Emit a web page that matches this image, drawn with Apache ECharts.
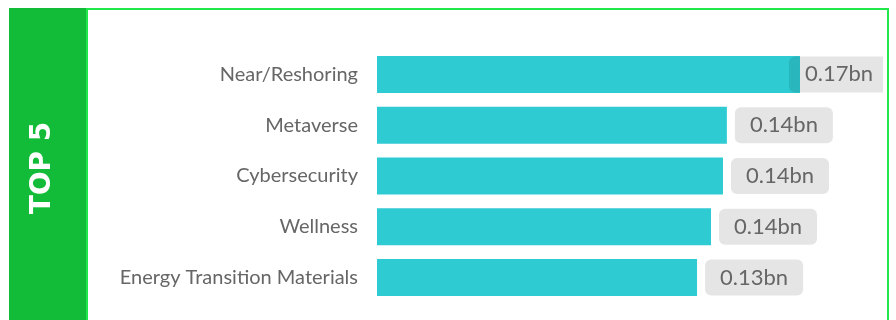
<!DOCTYPE html>
<html><head><meta charset="utf-8">
<script src="https://cdn.jsdelivr.net/npm/echarts@6/dist/echarts.min.js"></script>
<style>html,body{margin:0;padding:0;background:#fff;}#c{width:896px;height:320px;}</style>
</head><body><div id="c"></div>
<script>
const categories = ["Near/Reshoring", "Metaverse", "Cybersecurity", "Wellness", "Energy Transition Materials"];
const values = [0.173, 0.1431, 0.1415, 0.1366, 0.1309];
const unit = "bn";
const panelTitle = "TOP 5";

const chart = echarts.init(document.getElementById('c'));
const data = values.map((v, i) => {
  const d = { value: v };
  if (i === 0) {
    d.label = { offset: [-19, 0], padding: [7, 10, 7, 16], borderRadius: [6, 0, 0, 6] };
  }
  return d;
});
chart.setOption({
  animation: false,
  graphic: [
    { type: 'rect', shape: { x: 9, y: 8, width: 77, height: 320 }, style: { fill: '#12bc38' } },
    { type: 'rect', shape: { x: 86, y: 8, width: 2, height: 320 }, style: { fill: '#1ee84a' } },
    { type: 'rect', shape: { x: 86, y: 8, width: 803, height: 2 }, style: { fill: '#1ee84a' } },
    { type: 'rect', shape: { x: 887, y: 8, width: 2, height: 320 }, style: { fill: '#1ee84a' } },
    { type: 'text', x: 43, y: 168, rotation: Math.PI / 2,
      style: { text: panelTitle, fill: '#fff', font: 'bold 28px "DejaVu Sans"', align: 'center', verticalAlign: 'middle' } }
  ],
  grid: { left: 377, right: 30, top: 49, bottom: 17, containLabel: false },
  xAxis: { type: 'value', min: 0, max: 0.2, show: false },
  yAxis: {
    type: 'category', data: categories, inverse: true,
    axisLine: { show: false }, axisTick: { show: false },
    axisLabel: { color: '#666', fontSize: 20, fontFamily: 'Lato', margin: 19 }
  },
  series: [{
    type: 'bar', data: data, barWidth: 37,
    itemStyle: { color: '#2ecbd3' },
    label: {
      show: true, position: 'right', distance: 8,
      formatter: p => p.value.toFixed(2) + unit,
      color: '#666', fontSize: 22, fontFamily: 'Lato',
      backgroundColor: 'rgba(0,0,0,0.1)', borderRadius: 6,
      padding: [7, 15, 7, 15]
    }
  }]
});
</script></body></html>
